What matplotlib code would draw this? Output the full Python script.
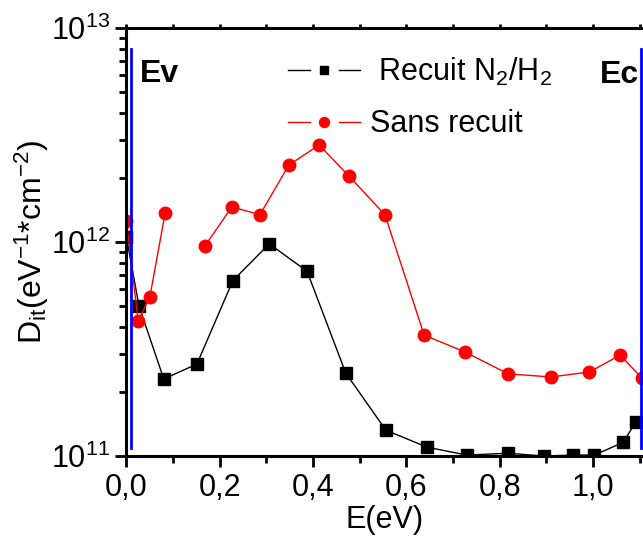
import numpy as np
import matplotlib
matplotlib.use("Agg")
import matplotlib.pyplot as plt
from matplotlib.lines import Line2D
from matplotlib.legend_handler import HandlerBase
from matplotlib.ticker import FixedLocator, LogLocator, NullFormatter

plt.rcParams['font.family'] = ['Liberation Sans', 'DejaVu Sans']
plt.rcParams['mathtext.fontset'] = 'custom'
plt.rcParams['mathtext.rm'] = 'Liberation Sans'
plt.rcParams['mathtext.it'] = 'Liberation Sans'

# Recuit N2/H2 (carrés noirs)
e_recuit = [0.0, 0.027, 0.080, 0.151, 0.228, 0.306, 0.387, 0.470, 0.556, 0.644,
            0.729, 0.818, 0.895, 0.958, 1.003, 1.065, 1.091]
dit_recuit = [1.05e12, 5.0e11, 2.29e11, 2.69e11, 6.6e11, 9.8e11, 7.3e11, 2.44e11,
              1.32e11, 1.10e11, 1.01e11, 1.03e11, 1.0e11, 1.01e11, 1.01e11,
              1.16e11, 1.44e11]

# Sans recuit (cercles rouges) - nan = coupure de la courbe
e_sans = [0.0, 0.025, 0.050, 0.083, np.nan, 0.168, 0.226, 0.286, 0.348, 0.413,
          0.477, 0.554, 0.638, 0.726, 0.818, 0.910, 0.992, 1.058, 1.105]
dit_sans = [1.26e12, 4.28e11, 5.53e11, 1.37e12, np.nan, 9.58e11, 1.46e12, 1.34e12,
            2.29e12, 2.84e12, 2.03e12, 1.34e12, 3.67e11, 3.06e11, 2.42e11,
            2.34e11, 2.47e11, 2.96e11, 2.31e11]

# bords de bande
ev_x, ec_x = 0.010, 1.103
band_top, band_bottom = 8.0e12, 1.09e11


class GapHandler(HandlerBase):
    """ligne - marqueur - ligne, style Origin"""
    def create_artists(self, legend, orig_handle, xdescent, ydescent,
                       width, height, fontsize, trans):
        y = (height - ydescent) / 2.0
        x0 = -xdescent
        seg = 0.3 * width
        c = orig_handle.get_color()
        l1 = Line2D([x0, x0 + seg], [y, y], color=c, lw=1)
        l2 = Line2D([x0 + width - seg, x0 + width], [y, y], color=c, lw=1)
        m = Line2D([x0 + width / 2], [y], color=c, ls='none',
                   marker=orig_handle.get_marker(),
                   ms=orig_handle.get_markersize() * 0.8)
        for a in (l1, l2, m):
            a.set_transform(trans)
        return [l1, l2, m]


fig = plt.figure(figsize=(6.43, 5.45), dpi=100)
ax = fig.add_axes([0.1967, 0.1633, 0.8033, 0.7853])

h1, = ax.plot(e_recuit, dit_recuit, color='black', lw=1, marker='s', ms=8)
h2, = ax.plot(e_sans, dit_sans, color='red', lw=1, marker='o', ms=9)

ax.plot([ev_x, ev_x], [band_bottom, band_top], color='blue', lw=2)
ax.plot([ec_x, ec_x], [band_bottom, band_top], color='blue', lw=2)

ax.set_yscale('log')
ax.set_ylim(1e11, 1e13)
ax.set_xlim(0, 1.107)

ax.xaxis.set_major_locator(FixedLocator([0.0, 0.2, 0.4, 0.6, 0.8, 1.0]))
ax.xaxis.set_minor_locator(FixedLocator([0.1, 0.3, 0.5, 0.7, 0.9, 1.1]))
ax.set_xticklabels(['0,0', '0,2', '0,4', '0,6', '0,8', '1,0'])
ax.yaxis.set_major_locator(LogLocator(base=10))
ax.yaxis.set_minor_locator(FixedLocator([k * 10.0**d for d in (11, 12) for k in range(2, 10)]))
ax.yaxis.set_minor_formatter(NullFormatter())

ax.tick_params(axis='both', which='major', direction='out', length=8, width=2,
               labelsize=22, pad=4)
ax.tick_params(axis='both', which='minor', direction='out', length=5, width=2)
ax.tick_params(axis='x', which='both', top=True)
# petites graduations en haut
for t in ax.xaxis.get_major_ticks() + ax.xaxis.get_minor_ticks():
    t.tick2line.set_markersize(3)

for side in ['left', 'bottom', 'top']:
    ax.spines[side].set_linewidth(2.2)
ax.spines['right'].set_visible(False)

ax.set_xlabel('E(eV)', fontsize=22, labelpad=2)
ax.set_ylabel('D$_{it}$(eV$^{-1}$*cm$^{-2}$)', fontsize=23, labelpad=0)

ax.text(0.028, 6.1e12, 'Ev', fontsize=23, fontweight='bold', va='center')
ax.text(1.099, 6.0e12, 'Ec', fontsize=23, fontweight='bold', va='center', ha='right')

ax.legend([h1, h2], [' Recuit N$_2$/H$_2$', 'Sans recuit'],
          handler_map={h1: GapHandler(), h2: GapHandler()},
          loc='upper left', bbox_to_anchor=(0.313, 0.935), frameon=False,
          fontsize=22, handlelength=2.36, handletextpad=0.33, labelspacing=0.7,
          borderpad=0, borderaxespad=0)

fig.savefig('out.png', dpi=100)
